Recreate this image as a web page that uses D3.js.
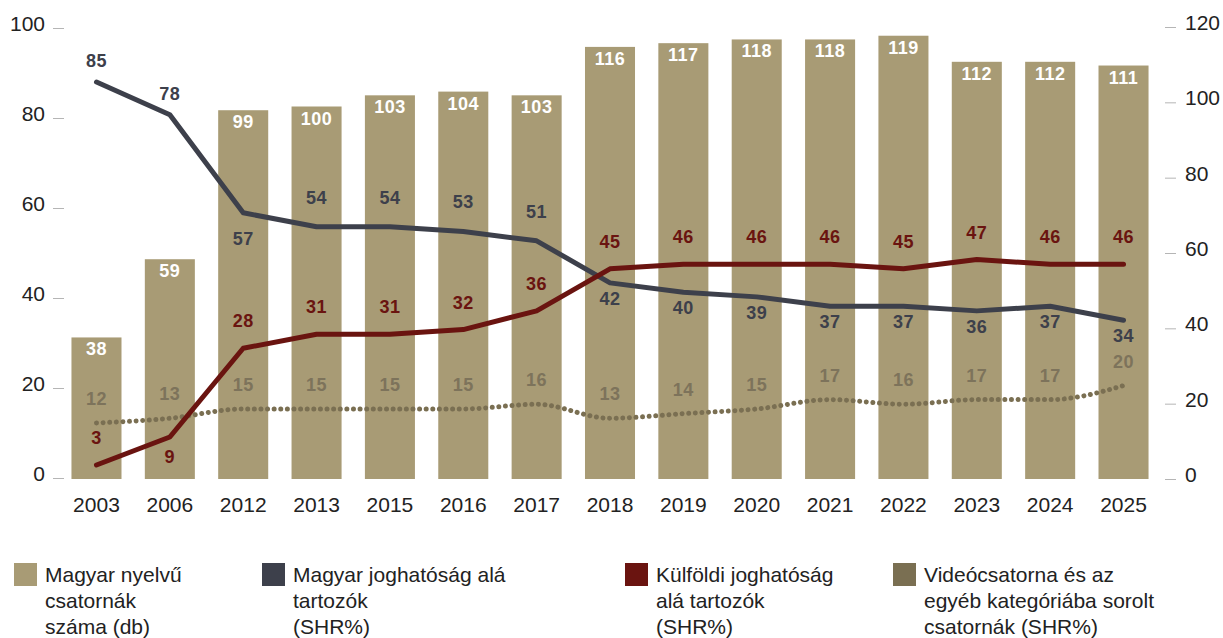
<!DOCTYPE html>
<html><head><meta charset="utf-8">
<script src="https://cdn.jsdelivr.net/npm/d3@7"></script>
<style>
html,body{margin:0;padding:0;background:#fff;}
svg text{font-family:"Liberation Sans",Arial,sans-serif;}
</style></head>
<body><svg id="c" width="1223" height="638"></svg>
<script>
const years = ["2003","2006","2012","2013","2015","2016","2017","2018","2019","2020","2021","2022","2023","2024","2025"];
const channelCount = [38,59,99,100,103,104,103,116,117,118,118,119,112,112,111];
const hungarianJurisdiction = [85,78,57,54,54,53,51,42,40,39,37,37,36,37,34];
const foreignJurisdiction = [3,9,28,31,31,32,36,45,46,46,46,45,47,46,46];
const videoOther = [12,13,15,15,15,15,16,13,14,15,17,16,17,17,20];
const leftTicks = [0,20,40,60,80,100];
const rightTicks = [0,20,40,60,80,100,120];
const legendItems = [
  {lines:["Magyar nyelvű","csatornák","száma (db)"], color:"#a89b75"},
  {lines:["Magyar joghatóság alá","tartozók","(SHR%)"], color:"#3d404b"},
  {lines:["Külföldi joghatóság","alá tartozók","(SHR%)"], color:"#6a1410"},
  {lines:["Videócsatorna és az","egyéb kategóriába sorolt","csatornák (SHR%)"], color:"#7a6f52"}
];

const C = {bar:"#a89b75", dark:"#3d404b", red:"#6a1410", dot:"#7a6f52", dotText:"#7d735b"};
const svg = d3.select("#c");

const x = d3.scaleBand().domain(years).range([59.8,1160.2]).paddingInner(0.318).paddingOuter(0.159);
const yLeft = d3.scaleLinear().domain([0,100]).range([478,28]);
const yRight = d3.scaleLinear().domain([0,120]).range([479,27]);
const yBar = d3.scaleLinear().domain([0,120]).range([479,32]);
const yLine = d3.scaleLinear().domain([0,100]).range([479,12]);
const cx = d => x(d) + x.bandwidth()/2;

// bars
svg.append("g").selectAll("rect").data(years).join("rect")
  .attr("x", d=>x(d)).attr("width", x.bandwidth())
  .attr("y", (d,i)=>yBar(channelCount[i])).attr("height",(d,i)=>yBar(0)-yBar(channelCount[i]))
  .attr("fill", C.bar);

// axes
const axL = svg.append("g").attr("transform","translate(64,0)")
  .call(d3.axisLeft(yLeft).tickValues(leftTicks).tickSize(11).tickPadding(8));
const axR = svg.append("g").attr("transform","translate(1165,0)")
  .call(d3.axisRight(yRight).tickValues(rightTicks).tickSize(11).tickPadding(9));
[axL,axR].forEach(a=>{
  a.select(".domain").remove();
  a.selectAll(".tick line").attr("stroke","#b5b5b5").attr("stroke-width",1);
  a.selectAll(".tick text").attr("fill","#222").attr("font-size",21).attr("dy","0.12em")
   .style("font-family","'Liberation Sans',Arial,sans-serif");
});
const axX = svg.append("g").attr("transform","translate(0,479)")
  .call(d3.axisBottom(x).tickSize(0).tickPadding(18));
axX.select(".domain").remove();
axX.selectAll(".tick text").attr("fill","#222").attr("font-size",21)
  .style("font-family","'Liberation Sans',Arial,sans-serif");

// lines
const mk = (vals, curve) => d3.line().x((d,i)=>cx(years[i])).y(d=>yLine(d)).curve(curve)(vals);
svg.append("path").attr("d", mk(videoOther, d3.curveMonotoneX)).attr("fill","none")
  .attr("stroke", C.dot).attr("stroke-width",5).attr("stroke-linecap","round")
  .attr("stroke-dasharray","0.01 6.6");
svg.append("path").attr("d", mk(hungarianJurisdiction, d3.curveLinear)).attr("fill","none")
  .attr("stroke", C.dark).attr("stroke-width",5).attr("stroke-linecap","round").attr("stroke-linejoin","round");
svg.append("path").attr("d", mk(foreignJurisdiction, d3.curveLinear)).attr("fill","none")
  .attr("stroke", C.red).attr("stroke-width",5).attr("stroke-linecap","round").attr("stroke-linejoin","round");

// labels
function labels(vals, yfn, offFn, color){
  svg.append("g").selectAll("text").data(vals).join("text")
    .attr("x",(d,i)=>cx(years[i])).attr("y",(d,i)=>yfn(d)+offFn(i))
    .attr("text-anchor","middle").attr("dominant-baseline","central")
    .attr("font-size",18).attr("font-weight","bold").attr("letter-spacing","0.5")
    .attr("fill",color).text(d=>d);
}
labels(channelCount, yBar, ()=>12, "#fff");
labels(hungarianJurisdiction, yLine, i=> i<2 ? -21 : (i===2 ? 26 : (i<7 ? -29 : 16)), C.dark);
labels(foreignJurisdiction, yLine, i=> i===1 ? 20 : -27, C.red);
labels(videoOther, yLine, ()=>-24, C.dotText);

// legend
const legX = [14,262,625,893];
const lg = svg.append("g");
legendItems.forEach((it,k)=>{
  const g = lg.append("g").attr("transform",`translate(${legX[k]},563)`);
  g.append("rect").attr("width",23).attr("height",23).attr("fill",it.color);
  g.append("text").attr("x",31).attr("font-size",21).attr("fill","#222")
    .selectAll("tspan").data(it.lines).join("tspan")
    .attr("x",31).attr("y",(d,i)=>19+i*26).text(d=>d);
});
</script></body></html>
